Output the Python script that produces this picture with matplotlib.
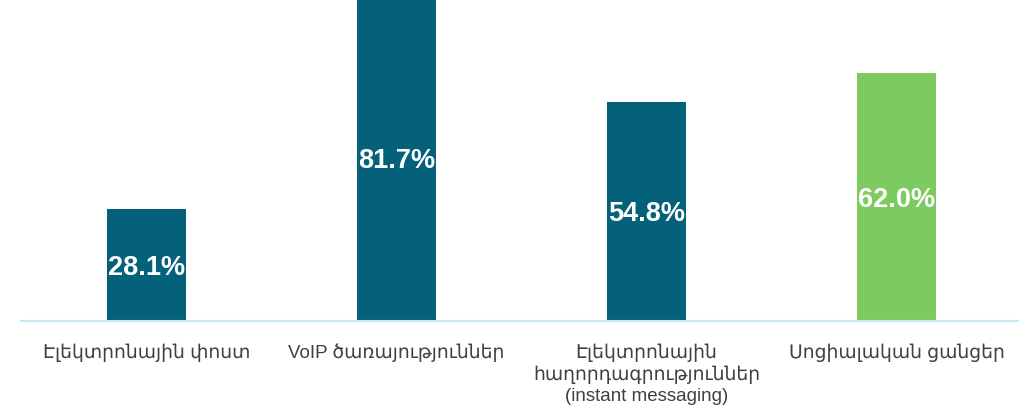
import matplotlib.pyplot as plt

plt.rcParams['font.family'] = ['Liberation Sans', 'DejaVu Sans']

categories = ['Էլեկտրոնային փոստ',
              'VoIP ծառայություններ',
              'Էլեկտրոնային\nհաղորդագրություններ\n(instant messaging)',
              'Սոցիալական ցանցեր']
values = [28.1, 81.7, 54.8, 62.0]
colors = ['#05617a', '#05617a', '#05617a', '#7dcb60']

fig = plt.figure(figsize=(10.19, 4.11), dpi=100)
# axes runs a bit past the right and top edges, like the cropped original
ax = fig.add_axes([21.5 / 1019, 90 / 411, 1000 / 1019, 321 / 411])

x = range(len(values))
bars = ax.bar(x, values, width=0.316, color=colors, zorder=2)
ax.set_xlim(-0.5, 3.5)
ax.set_ylim(0, 80.25)

for b, v in zip(bars, values):
    ax.text(b.get_x() + b.get_width() / 2, v / 2, '{:.1f}%'.format(v),
            ha='center', va='center_baseline', color='white', fontsize=19.5,
            fontweight='bold', clip_on=False, zorder=3)

for s in ['top', 'right', 'left']:
    ax.spines[s].set_visible(False)
ax.spines['bottom'].set_color('#c6ebf5')
ax.spines['bottom'].set_linewidth(1.5)
ax.set_yticks([])
ax.set_xticks(list(x))
ax.set_xticklabels(categories, fontsize=13.5, color='#404040', linespacing=1.3)
ax.tick_params(axis='x', length=0, pad=16)

fig.savefig('out.png', dpi=100)
